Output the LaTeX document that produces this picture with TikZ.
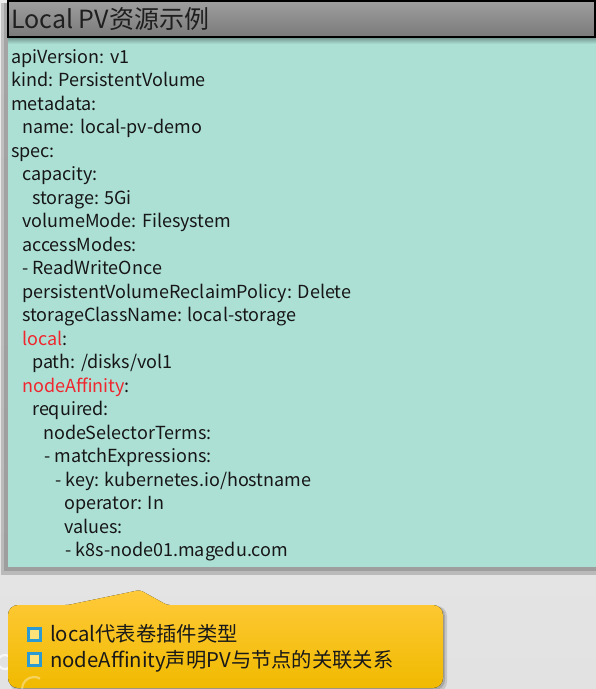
\documentclass[tikz,border=0pt]{standalone}
\usepackage{fontspec}
\setmainfont{Noto Sans CJK SC}
\definecolor{bgtop}{HTML}{EDEDED}
\definecolor{bgbot}{HTML}{E2E2E2}
\definecolor{teal}{HTML}{ADE0D5}
\definecolor{titletop}{HTML}{9E9E9E}
\definecolor{titlebot}{HTML}{7A7A7A}
\definecolor{codetext}{HTML}{161616}
\definecolor{keyred}{HTML}{F0262E}
\definecolor{calltop}{HTML}{FFCA3A}
\definecolor{callbot}{HTML}{F0BA00}
\definecolor{bulletblue}{HTML}{2B9AD2}
\definecolor{bulletin}{HTML}{FFE27A}
\tikzset{
  codeline/.style={anchor=base west, inner sep=0pt, font=\fontsize{18}{20}\selectfont, text=codetext},
  titletext/.style={anchor=base west, inner sep=0pt, font=\fontsize{25}{28}\selectfont, text=black!88},
  calltext/.style={anchor=base west, inner sep=0pt, font=\fontsize{20.3}{23}\selectfont, text=black!90},
  bulletbox/.style={draw=bulletblue, line width=2.8pt, fill=bulletin, minimum width=12pt, minimum height=12.5pt, inner sep=0pt},
  swirl/.style={draw=white, opacity=0.75, line width=2.2pt},
}
\begin{document}
\begin{tikzpicture}[x=1pt,y=-1pt]
\useasboundingbox (0,0) rectangle (596,689);
% background
\fill[top color=bgtop, bottom color=bgbot] (0,0) rectangle (596,689);
% main code panel with shadow
\fill[black, opacity=0.18] (1,3) rectangle (596,575);
\fill[black, opacity=0.15] (4,3) rectangle (596,571);
\fill[teal] (8,38) rectangle (596,567);
% title bar shadow on the panel
\fill[top color=black!35!teal, bottom color=teal] (8,37) rectangle (596,44);
% title bar
\draw[line width=1.6pt, top color=titletop, bottom color=titlebot] (8,1) rectangle (595,37);
\node[titletext] (title) at (11,28) {Local PV资源示例};
% code lines
\node[codeline] (l1)  at (11,63)    {apiVersion: v1};
\node[codeline] (l2)  at (11,86.5)  {kind: PersistentVolume};
\node[codeline] (l3)  at (11,110)   {metadata:};
\node[codeline] (l4)  at (22,133.5) {name: local-pv-demo};
\node[codeline] (l5)  at (11,157)   {spec:};
\node[codeline] (l6)  at (22,180.5) {capacity:};
\node[codeline] (l7)  at (32,204)   {storage: 5Gi};
\node[codeline] (l8)  at (22,227.5) {volumeMode: Filesystem};
\node[codeline] (l9)  at (22,251)   {accessModes:};
\node[codeline] (l10) at (22,274.5) {- ReadWriteOnce};
\node[codeline] (l11) at (22,298)   {persistentVolumeReclaimPolicy: Delete};
\node[codeline] (l12) at (22,321.5) {storageClassName: local-storage};
\node[codeline] (l13) at (22,345)   {\textcolor{keyred}{local}:};
\node[codeline] (l14) at (32,368.5) {path: /disks/vol1};
\node[codeline] (l15) at (22,392)   {\textcolor{keyred}{nodeAffinity}:};
\node[codeline] (l16) at (32,415.5) {required:};
\node[codeline] (l17) at (43,439)   {nodeSelectorTerms:};
\node[codeline] (l18) at (44,462.5) {- matchExpressions:};
\node[codeline] (l19) at (55,486)   {- key: kubernetes.io/hostname};
\node[codeline] (l20) at (64,509.5) {operator: In};
\node[codeline] (l21) at (64,533)   {values:};
\node[codeline] (l22) at (65,556.5) {- k8s-node01.magedu.com};
% background swirls (bottom left)
\draw[swirl] (12,662) arc[start angle=0, end angle=-300, radius=7pt];
\draw[swirl] (16,689) arc[start angle=180, end angle=110, radius=18pt];
% callout shadow
\fill[black, opacity=0.12, rounded corners=10pt] (10,606) rectangle (447,692);
\fill[black, opacity=0.15, rounded corners=10pt] (10,606) rectangle (445,690);
% callout
\fill[top color=calltop, bottom color=callbot]
  (40,605) [rounded corners=3pt] -- (68,605) -- (140,590) -- (167,605)
  [rounded corners=10pt] -- (443,605) -- (443,688) -- (8,688) -- (8,605) -- cycle;
\draw[swirl, opacity=0.35] (22,689) arc[start angle=180, end angle=60, radius=12pt];
\node[bulletbox] (b1) at (34.5,634.5) {};
\node[calltext] (c1) at (50,641) {local代表卷插件类型};
\node[bulletbox] (b2) at (34.5,659.5) {};
\node[calltext] (c2) at (50,667) {nodeAffinity声明PV与节点的关联关系};
\end{tikzpicture}
\end{document}
